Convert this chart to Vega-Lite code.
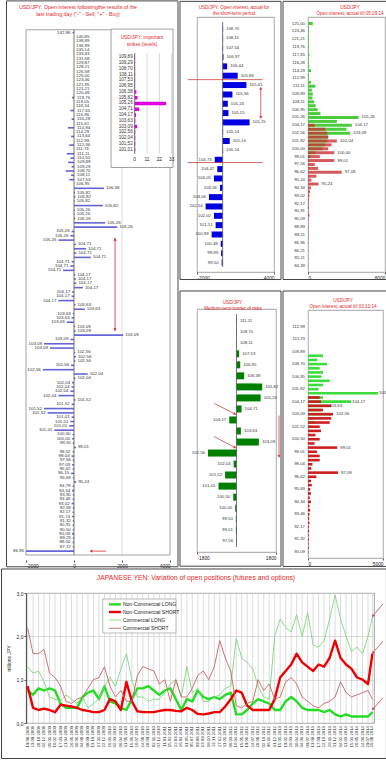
{
"$schema":"https://vega.github.io/schema/vega-lite/v6.json",
"background":"white",
"padding":0,
"config":{
 "font":"Liberation Sans",
 "view":{"stroke":"#8a8a8a","strokeWidth":0.8},
 "axis":{"labelFontSize":4.8,"labelColor":"#222","domainColor":"#555","tickColor":"#555","tickSize":2,"gridColor":"#c4c4c4","gridWidth":0.6,"labelPadding":1,"titleFontSize":5,"titleFontWeight":"normal","titleColor":"#222"},
 "axisY":{"labels":false,"ticks":false,"domain":false,"grid":false,"titleFontSize":0.01,"titlePadding":0,"labelPadding":0},
 "axisTop":{"labels":false,"ticks":false,"domain":false,"grid":false,"titleFontSize":0.01,"titlePadding":0,"labelPadding":0},
 "axisRight":{"labels":false,"ticks":false,"domain":false,"grid":false,"titleFontSize":0.01,"titlePadding":0,"labelPadding":0},
 "locale":{"number":{"decimal":",","thousands":" ","grouping":[3],"currency":["",""],"minus":"-"}}
},
"datasets":{
 "L":[
{"i":0,"p":"142,86","v":-60},{"i":1,"p":"140,85","v":0},{"i":2,"p":"138,89","v":0},{"i":3,"p":"136,99","v":0},{"i":4,"p":"135,14","v":0},{"i":5,"p":"133,33","v":0},{"i":6,"p":"131,58","v":0},{"i":7,"p":"129,87","v":0},{"i":8,"p":"128,21","v":0},{"i":9,"p":"126,58","v":0},
{"i":10,"p":"125,00","v":0},{"i":11,"p":"123,46","v":0},{"i":12,"p":"121,95","v":0},{"i":13,"p":"121,21","v":0},{"i":14,"p":"120,48","v":0},{"i":15,"p":"119,76","v":-80},{"i":16,"p":"119,05","v":0},{"i":17,"p":"118,34","v":0},{"i":18,"p":"117,65","v":-150},{"i":19,"p":"116,96","v":0},
{"i":20,"p":"116,28","v":-100},{"i":21,"p":"115,61","v":0},{"i":22,"p":"114,94","v":-250},{"i":23,"p":"114,29","v":0},{"i":24,"p":"113,64","v":-120},{"i":25,"p":"112,99","v":0},{"i":26,"p":"112,36","v":-200},{"i":27,"p":"111,73","v":0},{"i":28,"p":"111,11","v":-300},{"i":29,"p":"110,50","v":-150},
{"i":30,"p":"109,89","v":-250},{"i":31,"p":"109,29","v":-100},{"i":32,"p":"108,70","v":-350},{"i":33,"p":"108,11","v":-120},{"i":34,"p":"107,53","v":-200},{"i":35,"p":"106,95","v":0},{"i":36,"p":"106,38","v":1250},{"i":37,"p":"105,82","v":40},{"i":38,"p":"105,82","v":60},{"i":39,"p":"105,82","v":30},
{"i":40,"p":"105,82","v":1200},{"i":41,"p":"105,26","v":30},{"i":42,"p":"105,26","v":30},{"i":43,"p":"105,26","v":50},{"i":44,"p":"105,26","v":1300},{"i":45,"p":"105,26","v":1800},{"i":46,"p":"105,26","v":-100},{"i":47,"p":"105,26","v":-150},{"i":48,"p":"105,26","v":-650},{"i":49,"p":"104,71","v":80},
{"i":50,"p":"104,71","v":500},{"i":51,"p":"104,71","v":100},{"i":52,"p":"104,71","v":700},{"i":53,"p":"104,71","v":-100},{"i":54,"p":"104,71","v":-150},{"i":55,"p":"104,71","v":-450},{"i":56,"p":"104,17","v":50},{"i":57,"p":"104,17","v":80},{"i":58,"p":"104,17","v":100},{"i":59,"p":"104,17","v":370},
{"i":60,"p":"104,17","v":-80},{"i":61,"p":"104,17","v":-100},{"i":62,"p":"104,17","v":-650},{"i":63,"p":"103,63","v":60},{"i":64,"p":"103,63","v":450},{"i":65,"p":"103,63","v":-50},{"i":66,"p":"103,63","v":-100},{"i":67,"p":"103,63","v":-300},{"i":68,"p":"103,09","v":50},{"i":69,"p":"103,09","v":60},
{"i":70,"p":"103,09","v":2050},{"i":71,"p":"103,09","v":-150},{"i":72,"p":"103,09","v":-1250},{"i":73,"p":"103,09","v":-1000},{"i":74,"p":"102,56","v":50},{"i":75,"p":"102,56","v":80},{"i":76,"p":"102,56","v":60},{"i":77,"p":"102,56","v":-120},{"i":78,"p":"102,56","v":-1300},{"i":79,"p":"102,04","v":570},
{"i":80,"p":"102,04","v":60},{"i":81,"p":"102,04","v":-80},{"i":82,"p":"102,04","v":-100},{"i":83,"p":"102,04","v":-150},{"i":84,"p":"102,04","v":-650},{"i":85,"p":"101,52","v":60},{"i":86,"p":"101,52","v":-100},{"i":87,"p":"101,52","v":-1250},{"i":88,"p":"101,52","v":-1100},{"i":89,"p":"101,01","v":-100},
{"i":90,"p":"101,01","v":-150},{"i":91,"p":"101,01","v":-200},{"i":92,"p":"101,01","v":-820},{"i":93,"p":"100,50","v":-60},{"i":94,"p":"100,00","v":-80},{"i":95,"p":"99,50","v":-50},{"i":96,"p":"99,01","v":80},{"i":97,"p":"98,52","v":-60},{"i":98,"p":"98,04","v":-100},{"i":99,"p":"97,56","v":-50},
{"i":100,"p":"97,09","v":-80},{"i":101,"p":"96,62","v":-60},{"i":102,"p":"96,15","v":-120},{"i":103,"p":"95,69","v":-50},{"i":104,"p":"95,24","v":90},{"i":105,"p":"94,79","v":-60},{"i":106,"p":"94,34","v":-80},{"i":107,"p":"93,90","v":-50},{"i":108,"p":"93,46","v":-60},{"i":109,"p":"93,02","v":-100},
{"i":110,"p":"92,59","v":-50},{"i":111,"p":"92,17","v":-60},{"i":112,"p":"91,74","v":-80},{"i":113,"p":"91,32","v":-50},{"i":114,"p":"90,91","v":-60},{"i":115,"p":"90,50","v":-50},{"i":116,"p":"90,09","v":-80},{"i":117,"p":"89,29","v":-50},{"i":118,"p":"88,50","v":-60},{"i":119,"p":"87,72","v":-50},
{"i":120,"p":"86,96","v":-2000}
 ],
 "I":[
{"r":0,"p":"109,89","w":0.3},{"r":1,"p":"109,29","w":0.3},{"r":2,"p":"108,70","w":0.3},{"r":3,"p":"108,11","w":0.3},{"r":4,"p":"107,53","w":0.3},{"r":5,"p":"106,95","w":0.3},{"r":6,"p":"106,38","w":1.5},{"r":7,"p":"105,82","w":2.5},{"r":8,"p":"105,26","w":28},{"r":9,"p":"104,71","w":4},{"r":10,"p":"104,17","w":1.2},{"r":11,"p":"103,63","w":0.5},{"r":12,"p":"103,09","w":2.2},{"r":13,"p":"102,56","w":0.5},{"r":14,"p":"102,04","w":0.5},{"r":15,"p":"101,52","w":0.5},{"r":16,"p":"101,01","w":0.5}
 ],
 "IT":[{"t":0},{"t":11},{"t":22},{"t":33}],
 "MT":[
{"k":0,"p":"108,70","v":30},{"k":1,"p":"108,11","v":30},{"k":2,"p":"107,54","v":30},{"k":3,"p":"106,97","v":60},{"k":4,"p":"106,44","v":350},{"k":5,"p":"105,86","v":1170},{"k":6,"p":"105,61","v":1850},{"k":7,"p":"105,36","v":760},{"k":8,"p":"105,24","v":400},{"k":9,"p":"105,15","v":450},{"k":10,"p":"105,15","v":2100},{"k":11,"p":"105,14","v":30},{"k":12,"p":"105,14","v":550},{"k":13,"p":"105,14","v":30},{"k":14,"p":"104,73","v":-620},{"k":15,"p":"104,47","v":-420},{"k":16,"p":"104,05","v":-680},{"k":17,"p":"103,56","v":-210},{"k":18,"p":"103,06","v":-1070},{"k":19,"p":"102,54","v":-1330},{"k":20,"p":"102,02","v":-680},{"k":21,"p":"101,51","v":-550},{"k":22,"p":"100,99","v":-860},{"k":23,"p":"100,49","v":-150},{"k":24,"p":"99,99","v":-120},{"k":25,"p":"99,50","v":-80}
 ],
 "MB":[
{"k":0,"p":"111,11","v":20},{"k":1,"p":"108,70","v":20},{"k":2,"p":"108,11","v":20},{"k":3,"p":"107,53","v":120},{"k":4,"p":"106,95","v":170},{"k":5,"p":"106,38","v":350},{"k":6,"p":"105,82","v":1170},{"k":7,"p":"105,26","v":1100},{"k":8,"p":"104,71","v":230},{"k":9,"p":"104,17","v":-330},{"k":10,"p":"103,63","v":200},{"k":11,"p":"103,09","v":1020},{"k":12,"p":"102,56","v":-1300},{"k":13,"p":"102,04","v":-130},{"k":14,"p":"101,52","v":-520},{"k":15,"p":"101,01","v":-820},{"k":16,"p":"100,50","v":-150},{"k":17,"p":"100,00","v":-60},{"k":18,"p":"99,50","v":-30},{"k":19,"p":"99,01","v":-30},{"k":20,"p":"97,56","v":-20}
 ],
 "RT":[
{"j":0,"g":500,"a":"125,00"},{"j":1,"g":100},{"j":2,"g":100,"a":"123,46"},{"j":3,"g":80},{"j":4,"g":100,"a":"121,21"},{"j":5,"g":80},{"j":6,"g":100,"a":"119,76"},{"j":7,"g":80},{"j":8,"g":150,"a":"117,65"},{"j":9,"g":100},
{"j":10,"g":100,"a":"116,28"},{"j":11,"g":120},{"j":12,"g":300,"a":"114,29"},{"j":13,"g":100},{"j":14,"g":100,"a":"112,99"},{"j":15,"g":300},{"j":16,"g":770,"a":"111,11"},{"j":17,"g":400},{"j":18,"g":500,"a":"109,89"},{"j":19,"g":450},
{"j":20,"g":640,"a":"108,11"},{"j":21,"g":800},{"j":22,"g":1000,"a":"106,95"},{"j":23,"g":1300},{"j":24,"g":5250,"a":"105,26","bg":"105,26"},{"j":25,"g":3000},{"j":26,"g":4550,"r":700,"a":"104,17","bg":"104,17"},{"j":27,"g":4000,"r":1800},{"j":28,"g":4370,"r":2000,"a":"102,56","bg":"103,09"},{"j":29,"g":2100,"r":2100},
{"j":30,"g":2000,"r":3000,"a":"101,82","br":"102,04"},{"j":31,"g":1800,"r":2450},{"j":32,"g":1500,"r":2100,"a":"100,00"},{"j":33,"g":800,"r":2730,"br":"100,00"},{"j":34,"g":300,"r":1230,"a":"99,01"},{"j":35,"g":100,"r":2730,"br":"99,01"},{"j":36,"r":700,"a":"97,56"},{"j":37,"r":1050},{"j":38,"r":3500,"a":"96,62","br":"97,09"},{"j":39,"r":870},
{"j":40,"r":350,"a":"95,24"},{"j":41,"r":1100,"br":"95,24"},{"j":42,"r":300,"a":"94,34"},{"j":43,"r":200},{"j":44,"r":150,"a":"93,02"},{"j":45,"r":100},{"j":46,"r":80,"a":"92,17"},{"j":47,"r":100},{"j":48,"r":60,"a":"90,91"},{"j":49,"r":150},
{"j":50,"r":50,"a":"90,09"},{"j":51,"r":40},{"j":52,"r":50,"a":"88,89"},{"j":53,"r":30},{"j":54,"r":40,"a":"88,11"},{"j":55,"r":30},{"j":56,"r":30,"a":"86,96"},{"j":57,"r":20},{"j":58,"r":30,"a":"86,21"},{"j":59,"r":20},
{"j":60,"r":20,"a":"85,11"},{"j":61,"r":20},{"j":62,"r":20,"a":"84,39"}
 ],
 "RB":[
{"j":0,"a":"112,99"},{"j":3,"a":"111,73"},{"j":6,"a":"109,89"},{"j":7,"g":1000},{"j":8,"g":620},{"j":9,"g":1270,"a":"108,70"},{"j":10,"g":780},{"j":11,"g":1000},{"j":12,"g":900,"a":"106,95"},{"j":13,"g":1450},{"j":14,"g":1000},{"j":15,"g":700,"a":"105,82"},{"j":16,"g":4670,"bg":"105,26"},{"j":17,"g":1000,"r":780},{"j":18,"g":2870,"r":870,"a":"104,17","bg":"104,17"},{"j":19,"g":1330,"r":1550,"bg":"103,63"},
{"j":20,"g":870,"r":1000},{"j":21,"g":1550,"r":1670,"a":"103,09","br":"102,56"},{"j":22,"g":330,"r":1550},{"j":23,"g":500,"r":1450},{"j":24,"g":220,"r":780,"a":"101,52"},{"j":25,"g":100,"r":870},{"j":26,"r":500},{"j":27,"r":780,"a":"100,50"},{"j":28,"r":440},{"j":29,"r":1950,"br":"99,01"},
{"j":30,"r":600,"a":"99,01"},{"j":31,"r":780},{"j":32,"r":780},{"j":33,"r":300,"a":"98,04"},{"j":34,"r":220},{"j":35,"r":2000,"br":"97,09"},{"j":36,"r":560,"a":"96,62"},{"j":37,"r":200},{"j":38,"r":250},{"j":39,"r":150,"a":"95,69"},
{"j":40,"r":200},{"j":41,"r":120},{"j":42,"r":200,"a":"94,34"},{"j":43,"r":100},{"j":44,"r":150},{"j":45,"r":100,"a":"93,46"},{"j":46,"r":80},{"j":47,"r":100},{"j":48,"r":60,"a":"92,17"},{"j":49,"r":80},
{"j":50,"r":50},{"j":51,"r":60,"a":"91,32"},{"j":52,"r":40},{"j":53,"r":50},{"j":54,"r":30,"a":"90,09"}
 ],
 "B":[
{"d":"2008-08-19","dl":"19.08.2008","a":0.75,"b":0.85,"c":1.3,"e":2.2},{"d":"2008-09-23","dl":"23.09.2008","a":0.65,"b":0.35,"c":1.15,"e":1.6},{"d":"2008-10-28","dl":"28.10.2008","a":0.8,"b":0.3,"c":1.2,"e":1.6},{"d":"2008-12-02","dl":"02.12.2008","a":0.75,"b":0.33,"c":0.95,"e":1.7},{"d":"2009-01-06","dl":"06.01.2009","a":0.8,"b":0.3,"c":0.6,"e":1.15},{"d":"2009-02-10","dl":"10.02.2009","a":0.75,"b":0.25,"c":0.55,"e":1.05},{"d":"2009-03-17","dl":"17.03.2009","a":0.45,"b":0.42,"c":0.5,"e":0.85},{"d":"2009-04-21","dl":"21.04.2009","a":0.35,"b":0.4,"c":0.65,"e":0.5},
{"d":"2009-05-26","dl":"26.05.2009","a":0.35,"b":0.38,"c":0.55,"e":0.45},{"d":"2009-06-30","dl":"30.06.2009","a":0.35,"b":0.35,"c":0.45,"e":0.55},{"d":"2009-08-04","dl":"04.08.2009","a":0.6,"b":0.3,"c":0.6,"e":0.6},{"d":"2009-09-08","dl":"08.09.2009","a":0.7,"b":0.28,"c":0.35,"e":0.8},{"d":"2009-10-13","dl":"13.10.2009","a":0.75,"b":0.25,"c":0.45,"e":1.0},{"d":"2009-11-17","dl":"17.11.2009","a":0.55,"b":0.25,"c":0.55,"e":1.05},{"d":"2009-12-22","dl":"22.12.2009","a":0.85,"b":0.3,"c":0.85,"e":1.3},{"d":"2010-01-26","dl":"26.01.2010","a":0.5,"b":0.55,"c":1.05,"e":0.85},
{"d":"2010-03-02","dl":"02.03.2010","a":0.45,"b":0.5,"c":0.85,"e":0.6},{"d":"2010-04-06","dl":"06.04.2010","a":0.35,"b":0.3,"c":1.25,"e":0.75},{"d":"2010-05-11","dl":"11.05.2010","a":0.3,"b":0.95,"c":1.6,"e":0.5},{"d":"2010-06-15","dl":"15.06.2010","a":0.55,"b":0.5,"c":1.0,"e":0.5},{"d":"2010-07-20","dl":"20.07.2010","a":0.8,"b":0.27,"c":0.6,"e":1.1},{"d":"2010-08-24","dl":"24.08.2010","a":0.8,"b":0.25,"c":0.6,"e":1.3},{"d":"2010-09-28","dl":"28.09.2010","a":0.85,"b":0.25,"c":0.5,"e":1.25},{"d":"2010-11-02","dl":"02.11.2010","a":0.75,"b":0.25,"c":0.55,"e":1.2},
{"d":"2010-12-07","dl":"07.12.2010","a":0.65,"b":0.28,"c":0.55,"e":0.9},{"d":"2011-01-11","dl":"11.01.2011","a":0.75,"b":0.3,"c":0.7,"e":1.0},{"d":"2011-02-15","dl":"15.02.2011","a":0.8,"b":0.3,"c":0.9,"e":0.5},{"d":"2011-03-22","dl":"22.03.2011","a":0.55,"b":0.28,"c":1.0,"e":1.0},{"d":"2011-04-26","dl":"26.04.2011","a":0.3,"b":0.27,"c":0.6,"e":0.6},{"d":"2011-05-31","dl":"31.05.2011","a":0.55,"b":0.35,"c":1.3,"e":0.6},{"d":"2011-07-05","dl":"05.07.2011","a":0.5,"b":0.3,"c":0.7,"e":0.8},{"d":"2011-08-09","dl":"09.08.2011","a":0.75,"b":0.21,"c":0.8,"e":1.1},
{"d":"2011-09-13","dl":"13.09.2011","a":0.6,"b":0.2,"c":0.5,"e":1.2},{"d":"2011-10-18","dl":"18.10.2011","a":0.55,"b":0.22,"c":0.5,"e":1.0},{"d":"2011-11-22","dl":"22.11.2011","a":0.6,"b":0.25,"c":0.6,"e":1.3},{"d":"2011-12-27","dl":"27.12.2011","a":0.55,"b":0.25,"c":0.65,"e":1.9},{"d":"2012-01-31","dl":"31.01.2012","a":0.65,"b":0.38,"c":0.8,"e":1.5},{"d":"2012-03-06","dl":"06.03.2012","a":0.7,"b":0.55,"c":0.85,"e":1.2},{"d":"2012-04-10","dl":"10.04.2012","a":0.2,"b":0.75,"c":1.95,"e":0.4},{"d":"2012-05-15","dl":"15.05.2012","a":0.2,"b":0.7,"c":1.5,"e":0.35},
{"d":"2012-06-19","dl":"19.06.2012","a":0.3,"b":0.4,"c":1.4,"e":0.45},{"d":"2012-07-24","dl":"24.07.2012","a":0.45,"b":0.3,"c":1.25,"e":0.5},{"d":"2012-08-28","dl":"28.08.2012","a":0.55,"b":0.3,"c":0.85,"e":1.0},{"d":"2012-10-02","dl":"02.10.2012","a":0.5,"b":0.3,"c":0.6,"e":0.75},{"d":"2012-11-06","dl":"06.11.2012","a":0.45,"b":0.3,"c":0.55,"e":0.9},{"d":"2012-12-11","dl":"11.12.2012","a":0.3,"b":0.55,"c":2.0,"e":0.55},{"d":"2013-01-15","dl":"15.01.2013","a":0.3,"b":1.05,"c":2.4,"e":0.6},{"d":"2013-02-19","dl":"19.02.2013","a":0.5,"b":1.2,"c":2.2,"e":0.95},
{"d":"2013-03-26","dl":"26.03.2013","a":0.6,"b":1.35,"c":2.1,"e":1.05},{"d":"2013-04-30","dl":"30.04.2013","a":0.5,"b":1.6,"c":2.5,"e":0.9},{"d":"2013-06-04","dl":"04.06.2013","a":0.35,"b":1.4,"c":2.0,"e":0.6},{"d":"2013-07-09","dl":"09.07.2013","a":0.3,"b":1.3,"c":2.55,"e":0.5},{"d":"2013-08-13","dl":"13.08.2013","a":0.3,"b":1.2,"c":1.8,"e":0.4},{"d":"2013-09-17","dl":"17.09.2013","a":0.3,"b":1.35,"c":1.75,"e":0.35},{"d":"2013-10-22","dl":"22.10.2013","a":0.25,"b":1.3,"c":1.9,"e":0.45},{"d":"2013-11-26","dl":"26.11.2013","a":0.3,"b":1.5,"c":2.4,"e":0.5},
{"d":"2013-12-31","dl":"31.12.2013","a":0.2,"b":1.9,"c":2.95,"e":0.6},{"d":"2014-02-04","dl":"04.02.2014","a":0.15,"b":1.5,"c":2.4,"e":0.95},{"d":"2014-03-11","dl":"11.03.2014","a":0.2,"b":1.35,"c":2.0,"e":0.7},{"d":"2014-04-15","dl":"15.04.2014","a":0.15,"b":1.25,"c":1.65,"e":0.6},{"d":"2014-05-20","dl":"20.05.2014","a":0.15,"b":1.05,"c":1.75,"e":0.65},{"d":"2014-06-24","dl":"24.06.2014","a":0.15,"b":1.0,"c":1.6,"e":0.7},{"d":"2014-07-29","dl":"29.07.2014","a":0.15,"b":0.9,"c":2.0,"e":0.75},{"d":"2014-08-26","dl":"26.08.2014","a":0.25,"b":1.6,"c":2.45,"e":0.55}
 ]
},
"vconcat":[
 {"hconcat":[
   {"width":144,"height":543,
    "view":{"stroke":null},
    "resolve":{"scale":{"x":"independent","y":"independent"}},
    "layer":[
     {"layer":[
      {"data":{"values":[{}]},"mark":{"type":"rect","fill":"white","stroke":"#8a8a8a","strokeWidth":0.8},
       "encoding":{"x":{"datum":-2000,"type":"quantitative","scale":{"domain":[-2000,4000],"nice":false},"axis":{"values":[-2000,0,2000,4000],"format":"d","grid":false,"title":null,"domain":false}},"x2":{"datum":4000},
                   "y":{"datum":-0.7,"type":"quantitative","scale":{"domain":[-2.5,120.9],"reverse":true,"nice":false,"zero":false},"axis":null},"y2":{"datum":120.9}}},
      {"data":{"values":[{}]},"mark":{"type":"rect","filled":false,"color":"#444","strokeWidth":1},
       "encoding":{"x":{"datum":-2812,"type":"quantitative"},"x2":{"datum":4333},"y":{"datum":-7.386,"type":"quantitative"},"y2":{"datum":123.63}}},
      {"data":{"values":[{}]},"mark":{"type":"text","align":"center","baseline":"top","fontSize":5.3,"color":"#e02828"},
       "encoding":{"x":{"datum":167,"type":"quantitative"},"y":{"datum":-6.36,"type":"quantitative"},"text":{"value":"USD/JPY: Open interest followingthe results of the"}}},
      {"data":{"values":[{}]},"mark":{"type":"text","align":"center","baseline":"top","fontSize":5.3,"color":"#e02828"},
       "encoding":{"x":{"datum":167,"type":"quantitative"},"y":{"datum":-4.77,"type":"quantitative"},"text":{"value":"last trading day (\"-\" - Sell; \"+\" - Buy)"}}},
      {"data":{"values":[{}]},"mark":{"type":"rule","color":"#c4c4c4","strokeWidth":0.6},
       "encoding":{"x":{"datum":2000,"type":"quantitative"},"y":{"datum":-0.7,"type":"quantitative"},"y2":{"datum":120.9}}},
      {"data":{"name":"L"},"mark":{"type":"bar","orient":"horizontal","size":1.6,"color":"#6464d8"},
       "encoding":{"x":{"field":"v","type":"quantitative"},"y":{"field":"i","type":"quantitative"}}},
      {"data":{"name":"L"},"transform":[{"filter":"datum.v >= 0"}],"mark":{"type":"text","align":"left","dx":2,"fontSize":4.4,"color":"#333"},
       "encoding":{"x":{"field":"v","type":"quantitative"},"y":{"field":"i","type":"quantitative"},"text":{"field":"p"}}},
      {"data":{"name":"L"},"transform":[{"filter":"datum.v < 0 && datum.i <= 36 && datum.i > 0"}],"mark":{"type":"text","align":"left","dx":3,"fontSize":4.4,"color":"#333"},
       "encoding":{"x":{"datum":0,"type":"quantitative"},"y":{"field":"i","type":"quantitative"},"text":{"field":"p"}}},
      {"data":{"name":"L"},"transform":[{"filter":"datum.v < 0 && (datum.i > 36 || datum.i == 0)"}],"mark":{"type":"text","align":"right","dx":-2,"fontSize":4.4,"color":"#333"},
       "encoding":{"x":{"field":"v","type":"quantitative"},"y":{"field":"i","type":"quantitative"},"text":{"field":"p"}}},
      {"data":{"values":[{}]},"mark":{"type":"rule","color":"#555","strokeWidth":0.8},
       "encoding":{"x":{"datum":0,"type":"quantitative"},"y":{"datum":-0.7,"type":"quantitative"},"y2":{"datum":120.9}}},
      {"data":{"values":[{}]},"mark":{"type":"rule","color":"#d03030","strokeWidth":0.8},
       "encoding":{"x":{"datum":1710,"type":"quantitative"},"y":{"datum":47.5,"type":"quantitative"},"y2":{"datum":69}}},
      {"data":{"values":[{}]},"mark":{"type":"point","shape":"triangle-up","filled":true,"color":"#d03030","size":10,"opacity":1},
       "encoding":{"x":{"datum":1710,"type":"quantitative"},"y":{"datum":47.8,"type":"quantitative"}}},
      {"data":{"values":[{}]},"mark":{"type":"point","shape":"triangle-down","filled":true,"color":"#d03030","size":10,"opacity":1},
       "encoding":{"x":{"datum":1710,"type":"quantitative"},"y":{"datum":68.7,"type":"quantitative"}}},
      {"data":{"values":[{}]},"mark":{"type":"rule","color":"#d03030","strokeWidth":0.8},
       "encoding":{"x":{"datum":709,"type":"quantitative"},"x2":{"datum":1334},"y":{"datum":120,"type":"quantitative"}}},
      {"data":{"values":[{}]},"mark":{"type":"point","shape":"triangle-left","filled":true,"color":"#d03030","size":10,"opacity":1},
       "encoding":{"x":{"datum":709,"type":"quantitative"},"y":{"datum":120,"type":"quantitative"}}}
     ]},
     {"layer":[
      {"data":{"values":[{}]},"mark":{"type":"rect","fill":"white","stroke":"#888","strokeWidth":0.8},
       "encoding":{"x":{"datum":-21.1,"type":"quantitative","scale":{"domain":[-97,31.5],"nice":false},"axis":null},"x2":{"datum":34.2},
                   "y":{"datum":-4.9,"type":"quantitative","scale":{"domain":[-6.13,86.3],"reverse":true,"nice":false,"zero":false},"axis":null},"y2":{"datum":19.1}}},
      {"data":{"name":"IT"},"mark":{"type":"rule","color":"#bbb","strokeWidth":0.6},
       "encoding":{"x":{"field":"t","type":"quantitative","axis":null},"y":{"datum":-0.7,"type":"quantitative","axis":null},"y2":{"datum":16.7}}},
      {"data":{"values":[{}]},"mark":{"type":"rule","color":"#555","strokeWidth":0.8},
       "encoding":{"x":{"datum":0,"type":"quantitative","axis":null},"y":{"datum":-0.7,"type":"quantitative","axis":null},"y2":{"datum":16.7}}},
      {"data":{"name":"I"},"mark":{"type":"bar","orient":"horizontal","size":3.5,"color":"#e000e0"},
       "encoding":{"x":{"field":"w","type":"quantitative","axis":null},"y":{"field":"r","type":"quantitative","axis":null}}},
      {"data":{"name":"I"},"mark":{"type":"text","align":"right","dx":-2,"fontSize":4.6,"color":"#333"},
       "encoding":{"x":{"datum":0,"type":"quantitative","axis":null},"y":{"field":"r","type":"quantitative","axis":null},"text":{"field":"p"}}},
      {"data":{"name":"IT"},"mark":{"type":"text","fontSize":4.8,"baseline":"top","color":"#222"},
       "encoding":{"x":{"field":"t","type":"quantitative","axis":null},"y":{"datum":17.2,"type":"quantitative","axis":null},"text":{"field":"t"}}},
      {"data":{"values":[{}]},"mark":{"type":"text","fontSize":4.8,"baseline":"top","color":"#e02828"},
       "encoding":{"x":{"datum":6.5,"type":"quantitative","axis":null},"y":{"datum":-3.85,"type":"quantitative","axis":null},"text":{"value":"USD/JPY: important"}}},
      {"data":{"values":[{}]},"mark":{"type":"text","fontSize":4.8,"baseline":"top","color":"#e02828"},
       "encoding":{"x":{"datum":6.5,"type":"quantitative","axis":null},"y":{"datum":-2.74,"type":"quantitative","axis":null},"text":{"value":"strikes (levels)"}}}
     ]}
    ]},
  {"hconcat":[
   {"vconcat":[
    {"width":77,"height":255,
     "layer":[
      {"data":{"name":"MT"},"mark":{"type":"bar","orient":"horizontal","size":6,"color":"#0000e0"},
       "encoding":{"x":{"field":"v","type":"quantitative","scale":{"domain":[-2000,4000],"nice":false},"axis":{"values":[-2000,0,2000,4000],"format":"d","grid":true,"title":null,"domain":false}},
                   "y":{"field":"k","type":"quantitative","scale":{"domain":[-0.75,25.48],"reverse":true,"nice":false,"zero":false},"axis":null}}},
      {"data":{"values":[{}]},"mark":{"type":"rect","filled":false,"color":"#444","strokeWidth":1},
       "encoding":{"x":{"datum":-3325,"type":"quantitative"},"x2":{"datum":4545},"y":{"datum":-2.961,"type":"quantitative"},"y2":{"datum":26.82}}},
      {"data":{"values":[{}]},"mark":{"type":"text","align":"center","baseline":"top","fontSize":4.6,"color":"#e02828"},
       "encoding":{"x":{"datum":883,"type":"quantitative"},"y":{"datum":-2.55,"type":"quantitative"},"text":{"value":"USD/JPY: Open interest, actual for"}}},
      {"data":{"values":[{}]},"mark":{"type":"text","align":"center","baseline":"top","fontSize":4.6,"color":"#e02828"},
       "encoding":{"x":{"datum":883,"type":"quantitative"},"y":{"datum":-1.881,"type":"quantitative"},"text":{"value":"the short-term period"}}},
      {"data":{"name":"MT"},"transform":[{"filter":"datum.v >= 0"}],"mark":{"type":"text","align":"left","dx":3,"fontSize":4.3,"color":"#333"},
       "encoding":{"x":{"field":"v","type":"quantitative"},"y":{"field":"k","type":"quantitative"},"text":{"field":"p"}}},
      {"data":{"name":"MT"},"transform":[{"filter":"datum.v < 0"}],"mark":{"type":"text","align":"right","dx":-3,"fontSize":4.3,"color":"#333"},
       "encoding":{"x":{"field":"v","type":"quantitative"},"y":{"field":"k","type":"quantitative"},"text":{"field":"p"}}},
      {"data":{"values":[{}]},"mark":{"type":"rule","color":"#555","strokeWidth":0.8},
       "encoding":{"x":{"datum":0,"type":"quantitative"},"y":{"datum":-0.75,"type":"quantitative"},"y2":{"datum":25.48}}},
      {"data":{"values":[{}]},"mark":{"type":"rule","color":"#d04040","strokeWidth":0.8},
       "encoding":{"x":{"datum":-2734,"type":"quantitative"},"x2":{"datum":3125},"y":{"datum":5.42,"type":"quantitative"}}},
      {"data":{"values":[{}]},"mark":{"type":"rule","color":"#d04040","strokeWidth":0.8},
       "encoding":{"x":{"datum":-2734,"type":"quantitative"},"x2":{"datum":3125},"y":{"datum":14.3,"type":"quantitative"}}},
      {"data":{"values":[{}]},"mark":{"type":"rule","color":"#d04040","strokeWidth":0.8},
       "encoding":{"x":{"datum":2970,"type":"quantitative"},"y":{"datum":6.25,"type":"quantitative"},"y2":{"datum":9.55}}},
      {"data":{"values":[{}]},"mark":{"type":"point","shape":"triangle-up","filled":true,"color":"#d04040","size":10,"opacity":1},
       "encoding":{"x":{"datum":2970,"type":"quantitative"},"y":{"datum":6.35,"type":"quantitative"}}},
      {"data":{"values":[{}]},"mark":{"type":"point","shape":"triangle-down","filled":true,"color":"#d04040","size":10,"opacity":1},
       "encoding":{"x":{"datum":2970,"type":"quantitative"},"y":{"datum":9.45,"type":"quantitative"}}}
     ]},
    {"width":79,"height":243,
     "layer":[
      {"data":{"name":"MB"},"mark":{"type":"bar","orient":"horizontal","size":7,"color":"#008000"},
       "encoding":{"x":{"field":"v","type":"quantitative","scale":{"domain":[-1800,1800],"nice":false},"axis":{"values":[-1800,-900,0,900,1800],"format":"d","grid":true,"title":null,"domain":false}},
                   "y":{"field":"k","type":"quantitative","scale":{"domain":[-0.61,20.52],"reverse":true,"nice":false,"zero":false},"axis":null}}},
      {"data":{"values":[{}]},"mark":{"type":"rect","filled":false,"color":"#444","strokeWidth":1},
       "encoding":{"x":{"datum":-2575,"type":"quantitative"},"x2":{"datum":2028},"y":{"datum":-2.697,"type":"quantitative"},"y2":{"datum":22.26}}},
      {"data":{"values":[{}]},"mark":{"type":"text","align":"center","baseline":"top","fontSize":4.6,"color":"#e02828"},
       "encoding":{"x":{"datum":-160,"type":"quantitative"},"y":{"datum":-1.871,"type":"quantitative"},"text":{"value":"USD/JPY:"}}},
      {"data":{"values":[{}]},"mark":{"type":"text","align":"center","baseline":"top","fontSize":4.6,"color":"#e02828"},
       "encoding":{"x":{"datum":-160,"type":"quantitative"},"y":{"datum":-1.306,"type":"quantitative"},"text":{"value":"Medium-term border of risks"}}},
      {"data":{"name":"MB"},"transform":[{"filter":"datum.v >= 0"}],"mark":{"type":"text","align":"left","dx":3,"fontSize":4.3,"color":"#333"},
       "encoding":{"x":{"field":"v","type":"quantitative"},"y":{"field":"k","type":"quantitative"},"text":{"field":"p"}}},
      {"data":{"name":"MB"},"transform":[{"filter":"datum.v < 0"}],"mark":{"type":"text","align":"right","dx":-3,"fontSize":4.3,"color":"#333"},
       "encoding":{"x":{"field":"v","type":"quantitative"},"y":{"field":"k","type":"quantitative"},"text":{"field":"p"}}},
      {"data":{"values":[{}]},"mark":{"type":"rule","color":"#555","strokeWidth":0.8},
       "encoding":{"x":{"datum":0,"type":"quantitative"},"y":{"datum":-0.61,"type":"quantitative"},"y2":{"datum":20.52}}},
      {"data":{"values":[{}]},"mark":{"type":"rule","color":"#d04040","strokeWidth":0.8},
       "encoding":{"x":{"datum":-1012,"type":"quantitative"},"x2":{"datum":-68},"y":{"datum":7.5,"type":"quantitative"},"y2":{"datum":8.46}}},
      {"data":{"values":[{}]},"mark":{"type":"rule","color":"#d04040","strokeWidth":0.8},
       "encoding":{"x":{"datum":-1030,"type":"quantitative"},"x2":{"datum":-68},"y":{"datum":10.5,"type":"quantitative"},"y2":{"datum":11.5}}},
      {"data":{"values":[{}]},"mark":{"type":"point","shape":"triangle-right","angle":28,"filled":true,"color":"#d04040","size":10,"opacity":1},
       "encoding":{"x":{"datum":-68,"type":"quantitative"},"y":{"datum":8.46,"type":"quantitative"}}},
      {"data":{"values":[{}]},"mark":{"type":"point","shape":"triangle-right","angle":28,"filled":true,"color":"#d04040","size":10,"opacity":1},
       "encoding":{"x":{"datum":-68,"type":"quantitative"},"y":{"datum":11.5,"type":"quantitative"}}},
      {"data":{"values":[{}]},"mark":{"type":"rule","color":"#d04040","strokeWidth":0.8},
       "encoding":{"x":{"datum":1937,"type":"quantitative"},"y":{"datum":8.6,"type":"quantitative"},"y2":{"datum":12.35}}},
      {"data":{"values":[{}]},"mark":{"type":"point","shape":"triangle-down","filled":true,"color":"#d04040","size":10,"opacity":1},
       "encoding":{"x":{"datum":1937,"type":"quantitative"},"y":{"datum":12.3,"type":"quantitative"}}}
     ]}
   ],"spacing":37,"bounds":"flush"},
   {"vconcat":[
    {"width":77,"height":255,
     "layer":[
      {"data":{"name":"RT"},"mark":{"type":"bar","orient":"horizontal","size":3,"color":"#4ccc3c"},
       "encoding":{"x":{"field":"g","type":"quantitative","scale":{"domain":[0,8000],"nice":false},"axis":{"values":[0,2000,4000,6000,8000],"format":"d","grid":true,"title":null,"domain":false}},
                   "y":{"field":"j","type":"quantitative","scale":{"domain":[-0.4,62.2],"reverse":true,"nice":false,"zero":false},"axis":null}}},
      {"data":{"values":[{}]},"mark":{"type":"rect","filled":false,"color":"#444","strokeWidth":1},
       "encoding":{"x":{"datum":-2597,"type":"quantitative"},"x2":{"datum":8883},"y":{"datum":-5.678,"type":"quantitative"},"y2":{"datum":65.39}}},
      {"data":{"values":[{}]},"mark":{"type":"text","align":"center","baseline":"top","fontSize":4.6,"color":"#e02828"},
       "encoding":{"x":{"datum":4364,"type":"quantitative"},"y":{"datum":-4.745,"type":"quantitative"},"text":{"value":"USD/JPY"}}},
      {"data":{"values":[{}]},"mark":{"type":"text","align":"center","baseline":"top","fontSize":4.6,"color":"#e02828"},
       "encoding":{"x":{"datum":4364,"type":"quantitative"},"y":{"datum":-3.149,"type":"quantitative"},"text":{"value":"Open interest, actual till 05.09.14"}}},
      {"data":{"name":"RT"},"mark":{"type":"bar","orient":"horizontal","size":3,"color":"#c83232","opacity":0.8},
       "encoding":{"x":{"field":"r","type":"quantitative"},"y":{"field":"j","type":"quantitative"}}},
      {"data":{"name":"RT"},"transform":[{"filter":"datum.a"}],"mark":{"type":"text","align":"right","dx":-3,"fontSize":4.3,"color":"#333"},
       "encoding":{"x":{"datum":0,"type":"quantitative"},"y":{"field":"j","type":"quantitative"},"text":{"field":"a"}}},
      {"data":{"name":"RT"},"transform":[{"filter":"datum.bg"}],"mark":{"type":"text","align":"left","dx":3,"fontSize":4.3,"color":"#333"},
       "encoding":{"x":{"field":"g","type":"quantitative"},"y":{"field":"j","type":"quantitative"},"text":{"field":"bg"}}},
      {"data":{"name":"RT"},"transform":[{"filter":"datum.br"}],"mark":{"type":"text","align":"left","dx":3,"fontSize":4.3,"color":"#333"},
       "encoding":{"x":{"field":"r","type":"quantitative"},"y":{"field":"j","type":"quantitative"},"text":{"field":"br"}}}
     ]},
    {"width":75,"height":248,
     "layer":[
      {"data":{"name":"RB"},"mark":{"type":"bar","orient":"horizontal","size":2.6,"color":"#3cdc3c"},
       "encoding":{"x":{"field":"g","type":"quantitative","scale":{"domain":[0,5000],"nice":false},"axis":{"values":[0,1000,2000,3000,4000,5000],"format":"d","grid":true,"title":null,"domain":false}},
                   "y":{"field":"j","type":"quantitative","scale":{"domain":[-2.76,54.25],"reverse":true,"nice":false,"zero":false},"axis":null}}},
      {"data":{"values":[{}]},"mark":{"type":"rect","filled":false,"color":"#444","strokeWidth":1},
       "encoding":{"x":{"datum":-1667,"type":"quantitative"},"x2":{"datum":5700},"y":{"datum":-8.507,"type":"quantitative"},"y2":{"datum":57.47}}},
      {"data":{"values":[{}]},"mark":{"type":"text","align":"center","baseline":"top","fontSize":4.6,"color":"#e02828"},
       "encoding":{"x":{"datum":2333,"type":"quantitative"},"y":{"datum":-6.783,"type":"quantitative"},"text":{"value":"USD/JPY"}}},
      {"data":{"values":[{}]},"mark":{"type":"text","align":"center","baseline":"top","fontSize":4.6,"color":"#e02828"},
       "encoding":{"x":{"datum":2333,"type":"quantitative"},"y":{"datum":-5.289,"type":"quantitative"},"text":{"value":"Open interest, actual till 03.10.14"}}},
      {"data":{"name":"RB"},"mark":{"type":"bar","orient":"horizontal","size":2.6,"color":"#cc2020"},
       "encoding":{"x":{"field":"r","type":"quantitative"},"y":{"field":"j","type":"quantitative"}}},
      {"data":{"name":"RB"},"transform":[{"filter":"datum.a"}],"mark":{"type":"text","align":"right","dx":-3,"fontSize":4.3,"color":"#333"},
       "encoding":{"x":{"datum":0,"type":"quantitative"},"y":{"field":"j","type":"quantitative"},"text":{"field":"a"}}},
      {"data":{"name":"RB"},"transform":[{"filter":"datum.bg"}],"mark":{"type":"text","align":"left","dx":1,"fontSize":4.3,"color":"#333"},
       "encoding":{"x":{"field":"g","type":"quantitative"},"y":{"field":"j","type":"quantitative"},"text":{"field":"bg"}}},
      {"data":{"name":"RB"},"transform":[{"filter":"datum.br"}],"mark":{"type":"text","align":"left","dx":3,"fontSize":4.3,"color":"#333"},
       "encoding":{"x":{"field":"r","type":"quantitative"},"y":{"field":"j","type":"quantitative"},"text":{"field":"br"}}}
     ]}
   ],"spacing":38,"bounds":"flush"}
  ],"spacing":0}
 ],"spacing":0},
 {"width":348,"height":130,
   "data":{"name":"B"},
   "layer":[
    {"mark":{"type":"rule","color":"#c4c4c4","strokeWidth":0.6},
     "encoding":{
      "x":{"field":"d","type":"temporal","scale":{"type":"utc","domain":[{"year":2008,"month":8,"date":9,"utc":true},{"year":2014,"month":9,"date":5,"utc":true}]},"axis":{"labels":false,"ticks":false,"domain":false,"grid":false,"title":null}},
      "y":{"datum":0,"type":"quantitative","scale":{"domain":[0,3],"nice":false},"axis":{"values":[0,0.25,0.5,0.75,1,1.25,1.5,1.75,2,2.25,2.5,2.75,3],"format":".1f","title":"trillions JPY","labels":true,"ticks":true,"domain":true,"grid":true,"titleFontSize":5,"titlePadding":5,"labelPadding":1,"labelFontSize":5}},
      "y2":{"datum":3}}},
    {"transform":[{"fold":["a","b"],"as":["s","v"]}],"mark":{"type":"line","strokeWidth":2.4,"strokeJoin":"round"},
     "encoding":{"x":{"field":"d","type":"temporal"},"y":{"field":"v","type":"quantitative"},
      "color":{"field":"s","type":"nominal","scale":{"domain":["a","b","c","e"],"range":["#22dd22","#ee0000","#7ad87a","#c86464"]},"legend":null}}},
    {"transform":[{"fold":["c","e"],"as":["s","v"]}],"mark":{"type":"line","strokeWidth":0.9,"strokeJoin":"round"},
     "encoding":{"x":{"field":"d","type":"temporal"},"y":{"field":"v","type":"quantitative"},"color":{"field":"s","type":"nominal"}}},
    {"mark":{"type":"text","angle":270,"align":"right","baseline":"middle","fontSize":4.3,"color":"#222"},
     "encoding":{"x":{"field":"d","type":"temporal"},"y":{"datum":-0.069,"type":"quantitative"},"text":{"field":"dl"}}},
    {"data":{"values":[{}]},"mark":{"type":"rect","filled":false,"color":"#444","strokeWidth":1},
     "encoding":{"x":{"datum":{"year":2008,"month":3,"date":6,"utc":true},"type":"temporal"},"x2":{"datum":{"year":2014,"month":11,"date":23,"utc":true}},"y":{"datum":3.554,"type":"quantitative"},"y2":{"datum":-0.819}}},
    {"data":{"values":[{}]},"mark":{"type":"text","align":"center","baseline":"top","fontSize":6.8,"color":"#e02828"},
     "encoding":{"x":{"datum":{"year":2011,"month":7,"date":28,"utc":true},"type":"temporal"},"y":{"datum":3.404,"type":"quantitative"},"text":{"value":"JAPANESE YEN: Variation of open positions (futures and options)"}}},
    {"data":{"values":[{}]},"mark":{"type":"rect","fill":"white","stroke":"#999","strokeWidth":0.7},
     "encoding":{"x":{"datum":{"year":2009,"month":12,"date":11,"utc":true},"type":"temporal"},"x2":{"datum":{"year":2011,"month":3,"date":23,"utc":true}},"y":{"datum":2.862,"type":"quantitative"},"y2":{"datum":2.077}}},
    {"data":{"values":[{}]},"mark":{"type":"rule","color":"#22dd22","strokeWidth":2.4},
     "encoding":{"x":{"datum":{"year":2010,"month":1,"date":20,"utc":true},"type":"temporal"},"x2":{"datum":{"year":2010,"month":4,"date":6,"utc":true}},"y":{"datum":2.738,"type":"quantitative"}}},
    {"data":{"values":[{}]},"mark":{"type":"rule","color":"#ee0000","strokeWidth":2.4},
     "encoding":{"x":{"datum":{"year":2010,"month":1,"date":20,"utc":true},"type":"temporal"},"x2":{"datum":{"year":2010,"month":4,"date":6,"utc":true}},"y":{"datum":2.561,"type":"quantitative"}}},
    {"data":{"values":[{}]},"mark":{"type":"rule","color":"#7ad87a","strokeWidth":0.9},
     "encoding":{"x":{"datum":{"year":2010,"month":1,"date":20,"utc":true},"type":"temporal"},"x2":{"datum":{"year":2010,"month":4,"date":6,"utc":true}},"y":{"datum":2.377,"type":"quantitative"}}},
    {"data":{"values":[{}]},"mark":{"type":"rule","color":"#c86464","strokeWidth":0.9},
     "encoding":{"x":{"datum":{"year":2010,"month":1,"date":20,"utc":true},"type":"temporal"},"x2":{"datum":{"year":2010,"month":4,"date":6,"utc":true}},"y":{"datum":2.185,"type":"quantitative"}}},
    {"data":{"values":[{}]},"mark":{"type":"text","align":"left","baseline":"middle","fontSize":5,"color":"#222"},
     "encoding":{"x":{"datum":{"year":2010,"month":4,"date":19,"utc":true},"type":"temporal"},"y":{"datum":2.738,"type":"quantitative"},"text":{"value":"Non-Commercial LONG"}}},
    {"data":{"values":[{}]},"mark":{"type":"text","align":"left","baseline":"middle","fontSize":5,"color":"#222"},
     "encoding":{"x":{"datum":{"year":2010,"month":4,"date":19,"utc":true},"type":"temporal"},"y":{"datum":2.561,"type":"quantitative"},"text":{"value":"Non-Commercial SHORT"}}},
    {"data":{"values":[{}]},"mark":{"type":"text","align":"left","baseline":"middle","fontSize":5,"color":"#222"},
     "encoding":{"x":{"datum":{"year":2010,"month":4,"date":19,"utc":true},"type":"temporal"},"y":{"datum":2.377,"type":"quantitative"},"text":{"value":"Commercial LONG"}}},
    {"data":{"values":[{}]},"mark":{"type":"text","align":"left","baseline":"middle","fontSize":5,"color":"#222"},
     "encoding":{"x":{"datum":{"year":2010,"month":4,"date":19,"utc":true},"type":"temporal"},"y":{"datum":2.185,"type":"quantitative"},"text":{"value":"Commercial SHORT"}}},
    {"data":{"values":[{}]},"mark":{"type":"rule","color":"#d04040","strokeWidth":0.8},
     "encoding":{"x":{"datum":{"year":2014,"month":11,"date":1,"utc":true},"type":"temporal"},"x2":{"datum":{"year":2014,"month":8,"date":29,"utc":true}},"y":{"datum":2.75,"type":"quantitative"},"y2":{"datum":2.47}}},
    {"data":{"values":[{}]},"mark":{"type":"rule","color":"#d04040","strokeWidth":0.8},
     "encoding":{"x":{"datum":{"year":2014,"month":11,"date":1,"utc":true},"type":"temporal"},"x2":{"datum":{"year":2014,"month":8,"date":29,"utc":true}},"y":{"datum":1.89,"type":"quantitative"},"y2":{"datum":1.62}}},
    {"data":{"values":[{}]},"mark":{"type":"rule","color":"#d04040","strokeWidth":0.8},
     "encoding":{"x":{"datum":{"year":2014,"month":11,"date":1,"utc":true},"type":"temporal"},"x2":{"datum":{"year":2014,"month":8,"date":29,"utc":true}},"y":{"datum":0.58,"type":"quantitative"},"y2":{"datum":0.32}}},
    {"data":{"values":[{"q":2.47},{"q":1.62},{"q":0.32}]},"mark":{"type":"point","shape":"triangle-down","angle":45,"filled":true,"color":"#d04040","size":10,"opacity":1},
     "encoding":{"x":{"datum":{"year":2014,"month":8,"date":29,"utc":true},"type":"temporal"},"y":{"field":"q","type":"quantitative"}}}
   ]}
],
"spacing":0
}
